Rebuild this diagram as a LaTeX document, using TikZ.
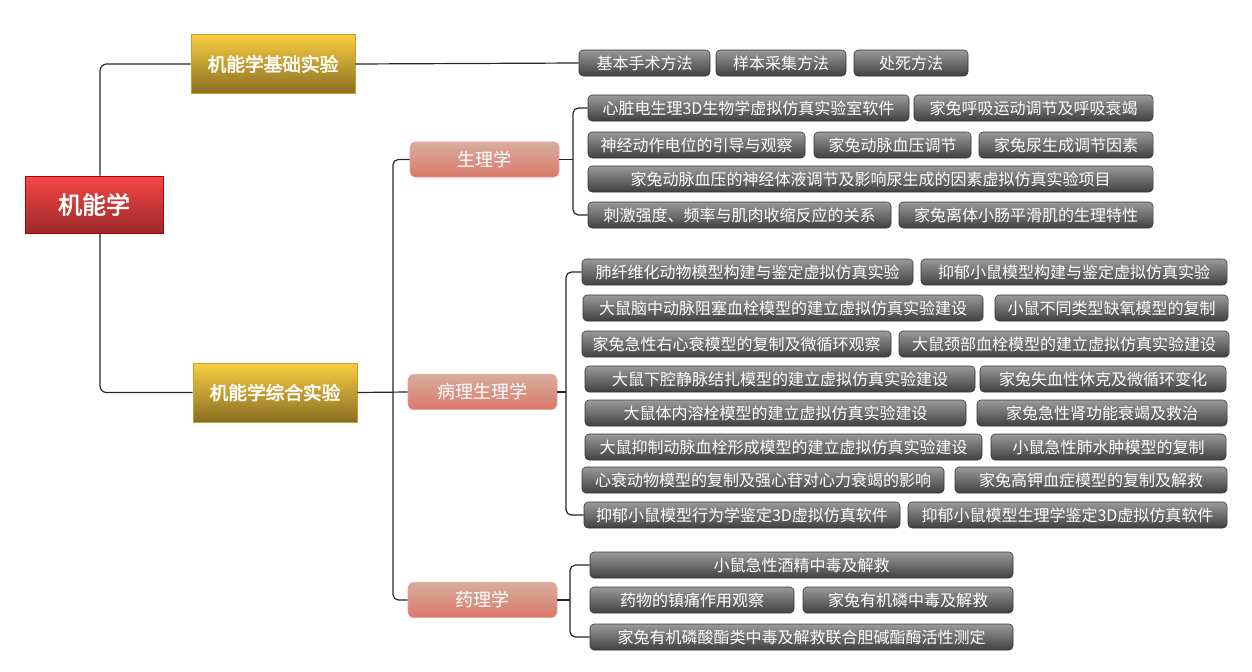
\documentclass[tikz,border=0pt]{standalone}
\usepackage{fontspec}
\setmainfont{Noto Sans CJK SC}[AutoFakeBold=2.5]
\usetikzlibrary{positioning}
\definecolor{roottop}{HTML}{F74545}
\definecolor{rootbot}{HTML}{9A2A2A}
\definecolor{rootline}{HTML}{B00000}
\definecolor{goldtop}{HTML}{F9CE42}
\definecolor{goldbot}{HTML}{8A6E22}
\definecolor{goldline}{HTML}{C79E2C}
\definecolor{topictop}{HTML}{D8AE9E}
\definecolor{topicbot}{HTML}{D9786A}
\definecolor{topicline}{HTML}{F39A98}
\definecolor{leaftop}{HTML}{9A9A9A}
\definecolor{leafbot}{HTML}{404040}
\definecolor{leafline}{HTML}{333333}

\begin{document}
\begin{tikzpicture}[x=0.75pt,y=-0.75pt,
  link/.style={draw=black!85,line width=0.9pt},
  bw/.style={minimum width=#1*0.75pt},
  leaf/.style={rounded corners=3pt,top color=leaftop,bottom color=leafbot,draw=leafline,text=white,inner sep=0pt,minimum height=19.5pt,font=\fontsize{12}{12}\selectfont},
  topic/.style={rounded corners=4pt,top color=topictop,bottom color=topicbot,draw=topicline,text=white,inner sep=0pt,minimum width=111.75pt,minimum height=26.5pt,font=\fontsize{13.5}{13.5}\selectfont},
  branch/.style={top color=goldtop,bottom color=goldbot,draw=goldline,text=white,inner sep=0pt,minimum width=123pt,minimum height=44pt,font=\bfseries\fontsize{14}{14}\selectfont}]
\useasboundingbox (0,0) rectangle (1252,671);

\node[top color=roottop,bottom color=rootbot,draw=rootline,text=white,inner sep=0pt,minimum width=103.5pt,minimum height=42.75pt,font=\bfseries\fontsize{18}{18}\selectfont] (root) at (94,204.5) {机能学};
\node[branch] (basic) at (273,64) {机能学基础实验};
\node[branch] (combo) at (275,392.5) {机能学综合实验};

\node[topic] (phys) at (484.5,159.5) {生理学};
\node[topic] (patho) at (482.5,392) {病理生理学};
\node[topic] (pharm) at (482.5,600) {药理学};

\node[leaf,bw=131] (b1) at (644.5,63) {基本手术方法};
\node[leaf,bw=130] (b2) at (781,63) {样本采集方法};
\node[leaf,bw=114] (b3) at (911,63) {处死方法};

\node[leaf,bw=321] (s1) at (748.5,108) {心脏电生理3D生物学虚拟仿真实验室软件};
\node[leaf,bw=239] (s2) at (1033.5,108) {家兔呼吸运动调节及呼吸衰竭};
\node[leaf,bw=217] (s3) at (696.5,145) {神经动作电位的引导与观察};
\node[leaf,bw=157] (s4) at (892.5,145) {家兔动脉血压调节};
\node[leaf,bw=174] (s5) at (1066,145) {家兔尿生成调节因素};
\node[leaf,bw=565] (s6) at (870.5,179) {家兔动脉血压的神经体液调节及影响尿生成的因素虚拟仿真实验项目};
\node[leaf,bw=303] (s7) at (739.5,215) {刺激强度、频率与肌肉收缩反应的关系};
\node[leaf,bw=254] (s8) at (1026,215) {家兔离体小肠平滑肌的生理特性};

\node[leaf,bw=331] (p1) at (747.5,272) {肺纤维化动物模型构建与鉴定虚拟仿真实验};
\node[leaf,bw=306] (p2) at (1074,272) {抑郁小鼠模型构建与鉴定虚拟仿真实验};
\node[leaf,bw=400] (p3) at (783,308) {大鼠脑中动脉阻塞血栓模型的建立虚拟仿真实验建设};
\node[leaf,bw=233] (p4) at (1111.5,308) {小鼠不同类型缺氧模型的复制};
\node[leaf,bw=309] (p5) at (736.5,344) {家兔急性右心衰模型的复制及微循环观察};
\node[leaf,bw=330] (p6) at (1064,344) {大鼠颈部血栓模型的建立虚拟仿真实验建设};
\node[leaf,bw=390] (p7) at (780,379) {大鼠下腔静脉结扎模型的建立虚拟仿真实验建设};
\node[leaf,bw=246] (p8) at (1103,379) {家兔失血性休克及微循环变化};
\node[leaf,bw=381] (p9) at (775.5,413) {大鼠体内溶栓模型的建立虚拟仿真实验建设};
\node[leaf,bw=250] (p10) at (1102,413) {家兔急性肾功能衰竭及救治};
\node[leaf,bw=397] (p11) at (783.5,447) {大鼠抑制动脉血栓形成模型的建立虚拟仿真实验建设};
\node[leaf,bw=235] (p12) at (1108.5,447) {小鼠急性肺水肿模型的复制};
\node[leaf,bw=362] (p13) at (763,480) {心衰动物模型的复制及强心苷对心力衰竭的影响};
\node[leaf,bw=272] (p14) at (1091,480) {家兔高钾血症模型的复制及解救};
\node[leaf,bw=316] (p15) at (742,515) {抑郁小鼠模型行为学鉴定3D虚拟仿真软件};
\node[leaf,bw=319] (p16) at (1067.5,515) {抑郁小鼠模型生理学鉴定3D虚拟仿真软件};

\node[leaf,bw=423] (d1) at (801.5,565) {小鼠急性酒精中毒及解救};
\node[leaf,bw=204] (d2) at (692,600) {药物的镇痛作用观察};
\node[leaf,bw=210] (d3) at (908,600) {家兔有机磷中毒及解救};
\node[leaf,bw=423] (d4) at (801.5,637) {家兔有机磷酸酯类中毒及解救联合胆碱酯酶活性测定};

\coordinate (rx) at (100,0);
\coordinate (cj) at (393,392);
\coordinate (sj) at (573,159.5);
\coordinate (pj) at (566,392);
\coordinate (dj) at (570,600);

\draw[link,rounded corners=5pt] (root.north -| rx) |- (basic.west);
\draw[link,rounded corners=5pt] (root.south -| rx) |- (combo.west);
\draw[link] (basic.east) -- (b1.west);
\draw[link] (combo.east) -- (patho.west);
\draw[link,rounded corners=4pt] (phys.west) -| (cj) |- (pharm.west);
\draw[link] (phys.east) -- (sj);
\draw[link,rounded corners=4pt] (s1.west) -| (sj) |- (s7.west);
\draw[link] (patho.east) -- (pj);
\draw[link,rounded corners=4pt] (p1.west) -| (pj) |- (p15.west);
\draw[link] (pharm.east) -- (dj);
\draw[link,rounded corners=4pt] (d1.west) -| (dj) |- (d4.west);
\end{tikzpicture}
\end{document}
